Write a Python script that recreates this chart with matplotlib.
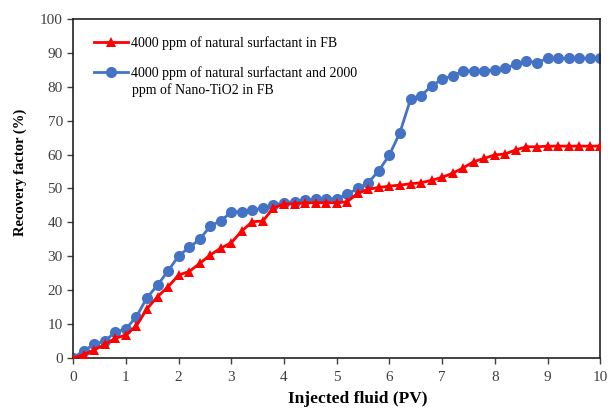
import matplotlib
matplotlib.use("Agg")
import matplotlib.pyplot as plt
import numpy as np

pv = [0.0, 0.2, 0.4, 0.6, 0.8, 1.0, 1.2, 1.4, 1.6, 1.8, 2.0, 2.2, 2.4, 2.6, 2.8, 3.0,
      3.2, 3.4, 3.6, 3.8, 4.0, 4.2, 4.4, 4.6, 4.8, 5.0, 5.2, 5.4, 5.6, 5.8, 6.0,
      6.2, 6.4, 6.6, 6.8, 7.0, 7.2, 7.4, 7.6, 7.8, 8.0, 8.2, 8.4, 8.6, 8.8, 9.0,
      9.2, 9.4, 9.6, 9.8, 10.0]

surfactant = [0.0, 1.0, 2.4, 4.0, 5.8, 6.8, 9.5, 14.5, 18.1, 21.0, 24.5, 25.5, 27.9, 30.4,
              32.4, 34.0, 37.5, 40.2, 40.4, 44.3, 45.4, 45.5, 45.8, 45.8, 45.8, 45.8,
              46.1, 48.6, 49.8, 50.3, 50.7, 51.0, 51.4, 51.7, 52.4, 53.3, 54.5, 56.1,
              57.9, 58.9, 59.9, 60.2, 61.4, 62.3, 62.3, 62.5, 62.5, 62.5, 62.5, 62.5, 62.5]

surf_tio2 = [0.0, 2.2, 4.0, 5.1, 7.6, 8.6, 12.2, 17.8, 21.5, 25.7, 30.1, 32.6, 35.0, 38.9,
             40.5, 43.0, 43.2, 43.7, 44.2, 45.1, 45.8, 46.1, 46.6, 46.9, 46.9, 47.0,
             48.3, 50.0, 51.7, 55.3, 59.9, 66.5, 76.3, 77.4, 80.2, 82.3, 83.2, 84.7,
             84.7, 84.7, 85.0, 85.5, 86.6, 87.6, 87.1, 88.4, 88.4, 88.4, 88.4, 88.4, 88.4]

label1 = "4000 ppm of natural surfactant in FB"
label2_line1 = "4000 ppm of natural surfactant and 2000"
label2_line2 = "ppm of Nano-TiO2 in FB"

plt.rcParams['font.family'] = ['Liberation Serif', 'DejaVu Serif']

fig = plt.figure(figsize=(6.10, 4.12), dpi=100)
ax = fig.add_axes([0.12, 0.131, 0.864, 0.823])

ax.plot(pv, surfactant, color='#FF0000', lw=2, marker='^', markersize=7,
        markeredgewidth=0, label=label1, zorder=3)
ax.plot(pv, surf_tio2, color='#4472C4', lw=2, marker='o', markersize=8,
        markeredgewidth=0, label=label2_line1, zorder=2)

ax.set_xlim(0, 10)
ax.set_ylim(0, 100)
ax.set_xticks(range(0, 11))
ax.set_yticks(range(0, 101, 10))
ax.tick_params(axis='both', direction='out', length=4, width=1, labelsize=11,
               labelcolor='#404040', color='#404040')
ax.tick_params(axis='x', pad=5)
for s in ax.spines.values():
    s.set_linewidth(1.2)
    s.set_color('#222222')

ax.set_xlabel('Injected fluid (PV)', fontsize=12.5, fontweight='bold')
ax.xaxis.set_label_coords(0.539, -0.097)
ax.set_ylabel('Recovery factor (%)', fontsize=10.5, fontweight='bold')
ax.yaxis.set_label_coords(-0.087, 0.548)

leg = ax.legend(loc='upper left', bbox_to_anchor=(0.039, 0.949), frameon=False,
                fontsize=10, handlelength=2.5, handletextpad=0.2, labelspacing=1.17,
                borderaxespad=0, borderpad=0)
ax.text(0.112, 0.79, label2_line2, transform=ax.transAxes, fontsize=10,
        va='center', ha='left')

fig.savefig('out.png', dpi=100)
